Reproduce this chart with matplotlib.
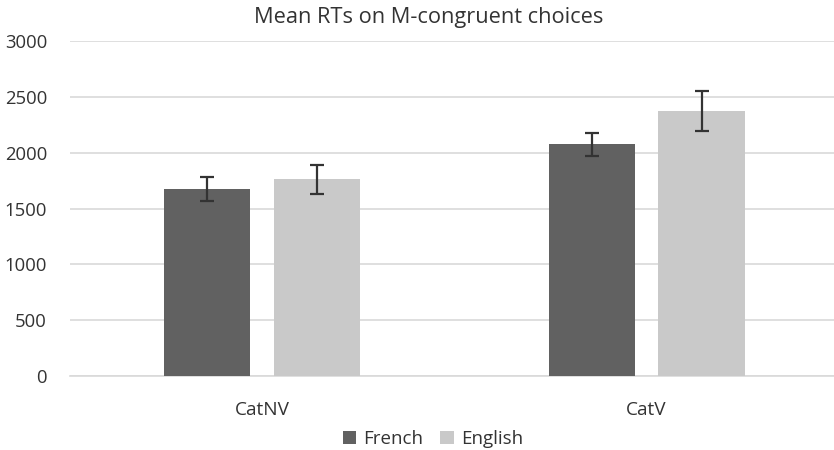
import matplotlib
matplotlib.use("Agg")
import matplotlib.pyplot as plt
import numpy as np

categories = ["CatNV", "CatV"]
series = ["French", "English"]
french = [1675, 2075]
english = [1760, 2373]
french_err = [106, 105]
english_err = [133, 177]
yticks = [0, 500, 1000, 1500, 2000, 2500, 3000]

plt.rcParams['font.family'] = ['Open Sans', 'DejaVu Sans']

fig = plt.figure(figsize=(8.34, 4.50), dpi=100)
ax = fig.add_axes([70/834, 1-376/450, 764/834, (376-41)/450])

x = np.arange(len(categories))
w = 0.224
off = 0.143
ax.bar(x - off, french, w, color="#616161", label="French", zorder=3,
       yerr=french_err, error_kw=dict(ecolor="#333333", elinewidth=1.6, capsize=5, capthick=1.6))
ax.bar(x + off, english, w, color="#c9c9c9", label="English", zorder=3,
       yerr=english_err, error_kw=dict(ecolor="#333333", elinewidth=1.6, capsize=5, capthick=1.6))

ax.set_ylim(0, 3000)
ax.set_xlim(-0.5, (834-262)/384.5)
ax.set_yticks(yticks)
ax.set_yticklabels([str(t) for t in yticks], fontsize=13.3, color="#333333")
ax.set_xticks(x)
ax.set_xticklabels(categories, fontsize=13.7, color="#333333")
ax.tick_params(axis='both', length=0)
ax.tick_params(axis='y', pad=16.5)
ax.tick_params(axis='x', pad=18)
ax.grid(axis='y', color="#d9d9d9", linewidth=1.2, zorder=0)
for s in ["top", "right", "left"]:
    ax.spines[s].set_visible(False)
ax.spines["bottom"].set_color("#d9d9d9")
ax.spines["bottom"].set_linewidth(1.2)

fig.text(429/834, 1-18/450, "Mean RTs on M-congruent choices", ha="center", va="center",
         fontsize=15.7, color="#333333")
leg = fig.legend(loc="center", bbox_to_anchor=(433/834, 1-439/450), ncol=2, frameon=False,
                 fontsize=13.5, handlelength=0.7, handleheight=0.7, columnspacing=0.9,
                 handletextpad=0.4, labelcolor="#333333")
fig.savefig("out.png", dpi=100)
